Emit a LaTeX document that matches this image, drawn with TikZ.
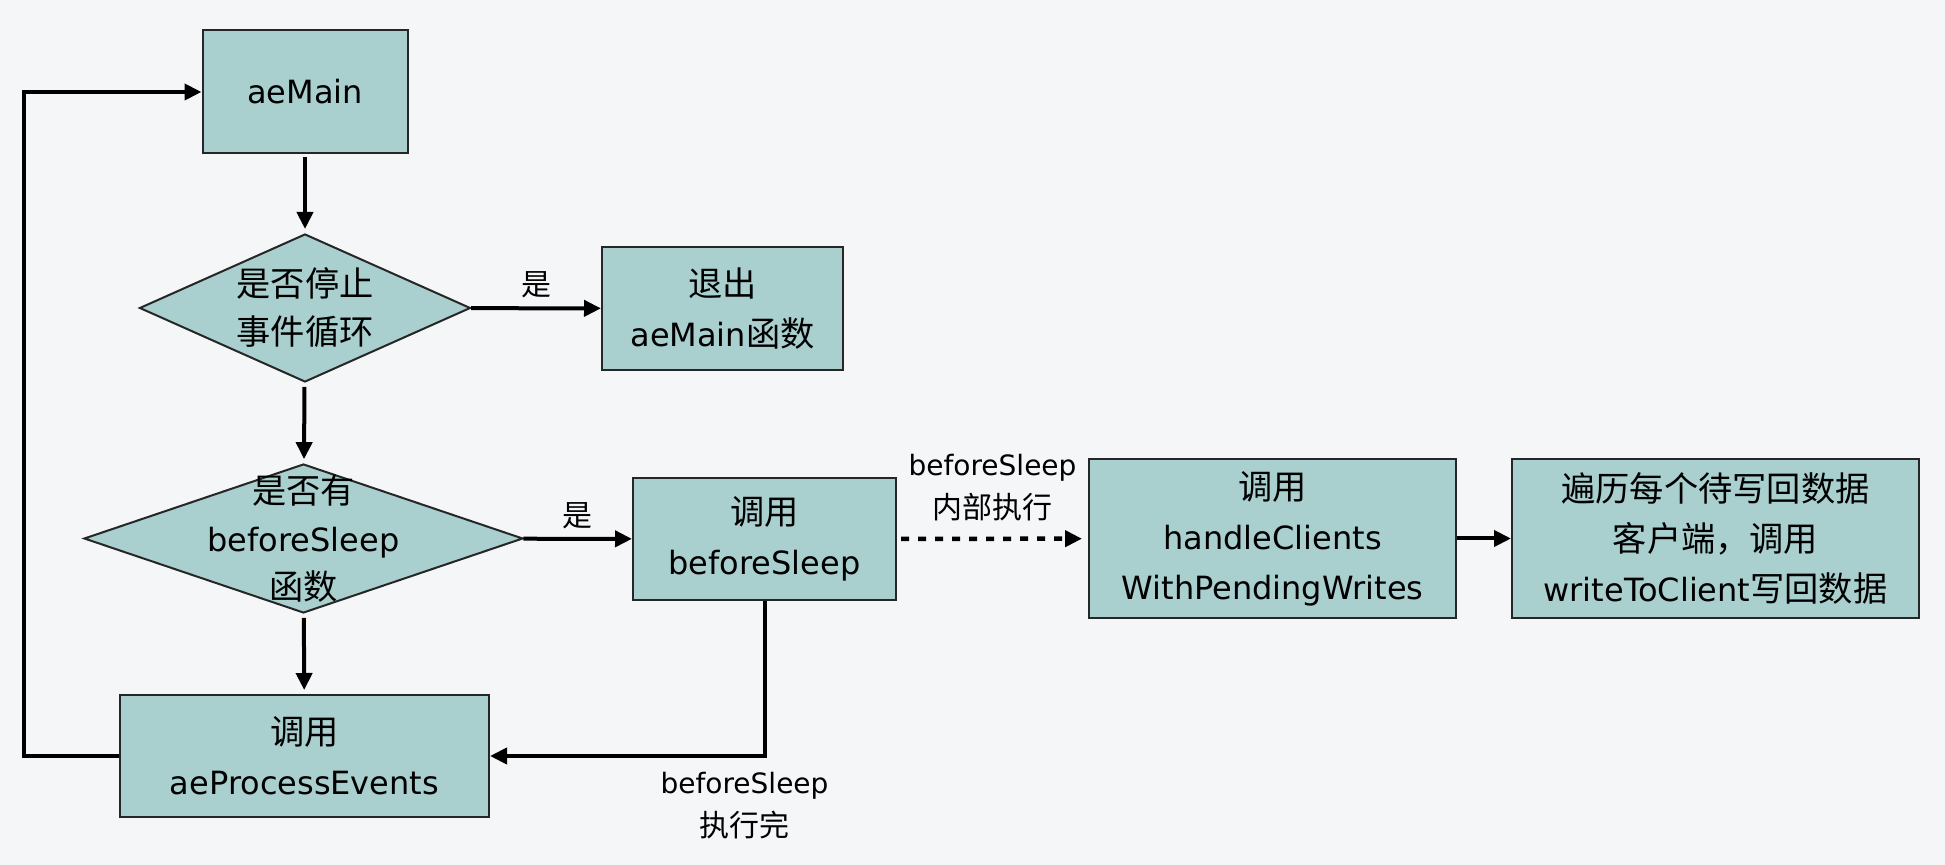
\documentclass[tikz,border=0pt]{standalone}
\usepackage{fontspec}
\setmainfont{DejaVu Sans}
\newfontfamily\cjk{Noto Sans CJK SC}[Scale=1.07]
\usetikzlibrary{arrows.meta, shapes.geometric, positioning}
\definecolor{boxfill}{HTML}{A9CFCF}
\definecolor{bgcol}{HTML}{F5F6F8}
\definecolor{edgecol}{HTML}{262626}

\begin{document}
\begin{tikzpicture}[x=0.5pt, y=-0.5pt,
  proc/.style={draw=edgecol, line width=1pt, fill=boxfill, inner sep=0pt, align=center, font=\fontsize{16}{25}\selectfont},
  decide/.style={diamond, draw=edgecol, line width=1pt, fill=boxfill, inner sep=0pt, aspect=1},
  decidetext/.style={align=center, inner sep=0pt, font=\fontsize{16}{24}\selectfont},
  tag/.style={align=center, inner sep=1pt, font=\fontsize{14}{21.5}\selectfont},
  flow/.style={line width=2pt, -{Triangle[length=8.5pt, width=8pt]}}]
\fill[bgcol] (0,0) rectangle (1945,865);
\useasboundingbox (0,0) rectangle (1945,865);

% main loop column
\node[proc, minimum width=102.5pt, minimum height=61.5pt] (main) at (305,92) {aeMain};
\node[decide, minimum width=165.5pt, minimum height=74pt] (stop) at (305,308) {};
\node[decidetext] (stoptext) at (stop) {{\cjk 是否停止}\\{\cjk 事件循环}};
\node[proc, minimum width=120.5pt, minimum height=61.5pt] (quit) at (722.5,308.5) {{\cjk 退出}\\aeMain{\cjk 函数}};
\node[decide, minimum width=219.5pt, minimum height=74.5pt] (check) at (303.5,538.5) {};
\node[decidetext] (checktext) at (check) {{\cjk 是否有}\\beforeSleep\\{\cjk 函数}};
\node[proc, minimum width=184.5pt, minimum height=61pt] (process) at (304.5,756) {{\cjk 调用}\\aeProcessEvents};

% beforeSleep chain
\node[proc, minimum width=131.5pt, minimum height=61pt] (callsleep) at (764.5,539) {{\cjk 调用}\\beforeSleep};
\node[proc, minimum width=183.5pt, minimum height=79.5pt] (handle) at (1272.5,538.5) {{\cjk 调用}\\handleClients\\WithPendingWrites};
\node[proc, minimum width=203.5pt, minimum height=79.5pt] (write) at (1715.5,538.5) {{\cjk 遍历每个待写回数据}\\{\cjk 客户端，调用}\\writeToClient{\cjk 写回数据}};

\coordinate (loopx) at (24,756);

\draw[flow, shorten <=1.5pt, shorten >=2pt] (main) -- (stop);
\draw[flow] (stop) -- node[tag, above=3pt] (yes1) {\cjk 是} (quit);
\draw[flow, shorten <=2pt, shorten >=2pt] (stop) -- (check);
\draw[flow] (check) -- node[tag, above=3pt] (yes2) {\cjk 是} (callsleep);
\draw[flow, line width=2.25pt, shorten <=2pt, shorten >=3pt, dash pattern=on 4pt off 4.5pt] (callsleep) -- node[tag, above=7pt] (inside) {beforeSleep\\{\cjk 内部执行}} (handle);
\draw[flow] (handle) -- (write);
\draw[flow, shorten <=2pt, shorten >=2pt] (check) -- (process);
\draw[flow] (callsleep.south) |- node[tag, below=6pt, xshift=-10pt, pos=0.5] (done) {beforeSleep\\{\cjk 执行完}} (process.east);
\draw[flow] (process.west) -- (loopx) |- (main.west);
\end{tikzpicture}
\end{document}
